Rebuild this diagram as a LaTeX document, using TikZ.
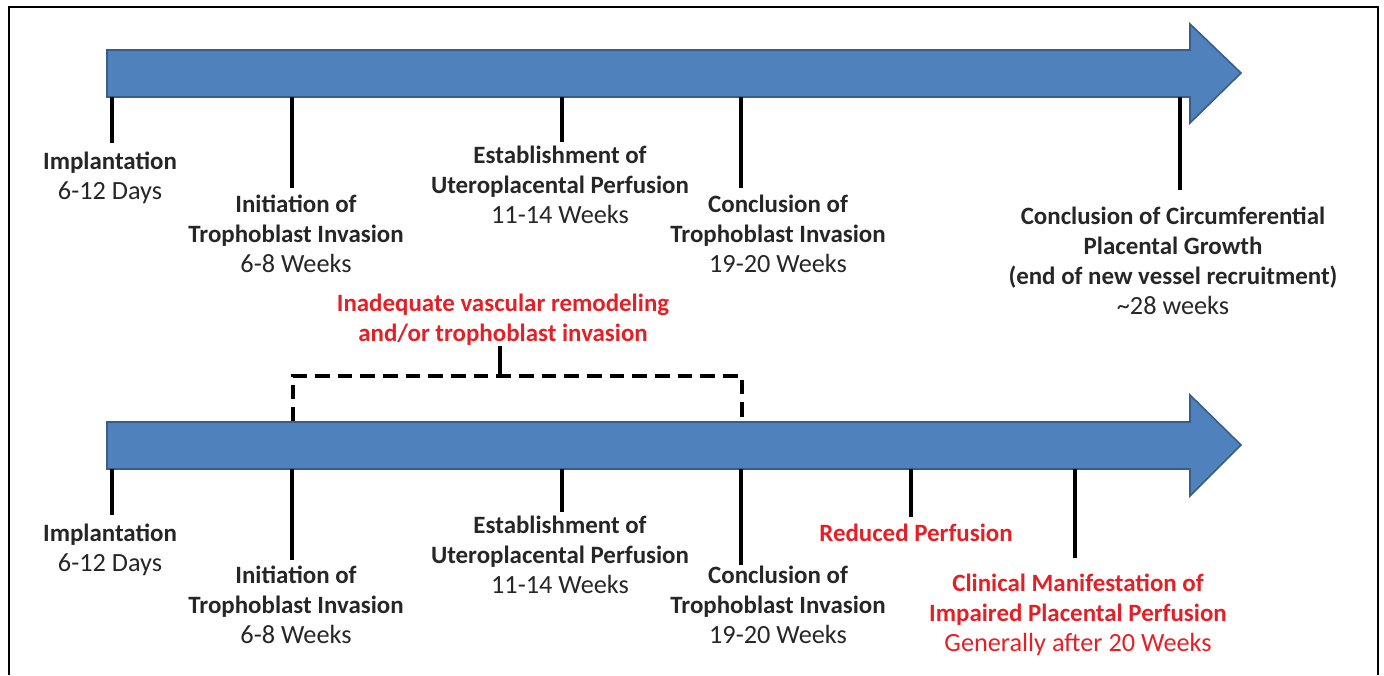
\documentclass[tikz,border=0pt]{standalone}
\usepackage{fontspec}
\setmainfont{Carlito}
\usetikzlibrary{positioning}
\definecolor{barblue}{RGB}{79,129,189}
\definecolor{barline}{RGB}{56,93,138}
\definecolor{alertred}{RGB}{228,32,38}
\newcommand{\wk}[1]{{\mdseries\fontsize{19.7}{22.5}\selectfont #1}}

\begin{document}
\begin{tikzpicture}[x=0.75pt,y=-0.75pt,
  bar/.style={fill=barblue,draw=barline,line width=1.2pt},
  tick/.style={line width=3pt},
  lbl/.style={anchor=north,align=center,inner sep=0pt,text=black!85,
    font=\fontsize{18.7}{22.5}\selectfont\bfseries},
  alert/.style={lbl,text=alertred}]
  \useasboundingbox (0,0) rectangle (1384,675);
  \draw[line width=1.5pt] (9,675) -- (9,7) -- (1378,7) -- (1378,675);

  % upper time line
  \draw[bar] (107,50) -- (1190,50) -- (1190,24) -- (1241,73) -- (1190,123)
    -- (1190,97) -- (107,97) -- cycle;
  \coordinate (topbar) at (0,97);

  \coordinate (u1) at (112,143);
  \coordinate (u2) at (292,188);
  \coordinate (u3) at (562,142);
  \coordinate (u4) at (741,188);
  \coordinate (u5) at (1180,190);

  \node[lbl] (impl)  at (110,152)  {Implantation\\\wk{6-12 Days}};
  \node[lbl] (init)  at (296,195)  {Initiation of\\Trophoblast Invasion\\\wk{6-8 Weeks}};
  \node[lbl] (estab) at (560,146)  {Establishment of\\Uteroplacental Perfusion\\\wk{11-14 Weeks}};
  \node[lbl] (concl) at (778,195)  {Conclusion of\\Trophoblast Invasion\\\wk{19-20 Weeks}};
  \node[lbl] (circ)  at (1173,207) {Conclusion of Circumferential\\Placental Growth\\(end of new vessel recruitment)\\\wk{\textasciitilde28 weeks}};

  \draw[tick] (u1 |- topbar) -- (u1)
              (u2 |- topbar) -- (u2)
              (u3 |- topbar) -- (u3)
              (u4 |- topbar) -- (u4)
              (u5 |- topbar) -- (u5);

  % inadequate remodeling
  \node[alert] (inad) at (503,294) {Inadequate vascular remodeling\\and/or trophoblast invasion};
  \coordinate (bl) at (293,422);
  \coordinate (br) at (742,422);
  \coordinate (bm) at (500,376);
  \draw[line width=2.6pt,dash pattern=on 11pt off 6pt]
    (bl) -- (bl |- bm) -- (br |- bm) -- (br);
  \draw[line width=2.6pt] (bm) -- (bm |- inad.south);

  % lower time line
  \draw[bar] (107,422) -- (1190,422) -- (1190,395) -- (1241,445) -- (1190,496)
    -- (1190,469) -- (107,469) -- cycle;
  \coordinate (botbar) at (0,469);

  \coordinate (v1) at (112,515);
  \coordinate (v2) at (292,560);
  \coordinate (v3) at (562,512);
  \coordinate (v4) at (741,565);
  \coordinate (v5) at (911,517);
  \coordinate (v6) at (1075,558);

  \node[lbl] (impl2)  at (110,524)  {Implantation\\\wk{6-12 Days}};
  \node[lbl] (init2)  at (296,566)  {Initiation of\\Trophoblast Invasion\\\wk{6-8 Weeks}};
  \node[lbl] (estab2) at (560,516)  {Establishment of\\Uteroplacental Perfusion\\\wk{11-14 Weeks}};
  \node[lbl] (concl2) at (778,566)  {Conclusion of\\Trophoblast Invasion\\\wk{19-20 Weeks}};
  \node[alert] (red)  at (916,524)  {Reduced Perfusion};
  \node[alert] (clin) at (1078,574) {Clinical Manifestation of\\Impaired Placental Perfusion\\\wk{Generally after 20 Weeks}};

  \draw[tick] (v1 |- botbar) -- (v1)
              (v2 |- botbar) -- (v2)
              (v3 |- botbar) -- (v3)
              (v4 |- botbar) -- (v4)
              (v5 |- botbar) -- (v5)
              (v6 |- botbar) -- (v6);
\end{tikzpicture}
\end{document}
